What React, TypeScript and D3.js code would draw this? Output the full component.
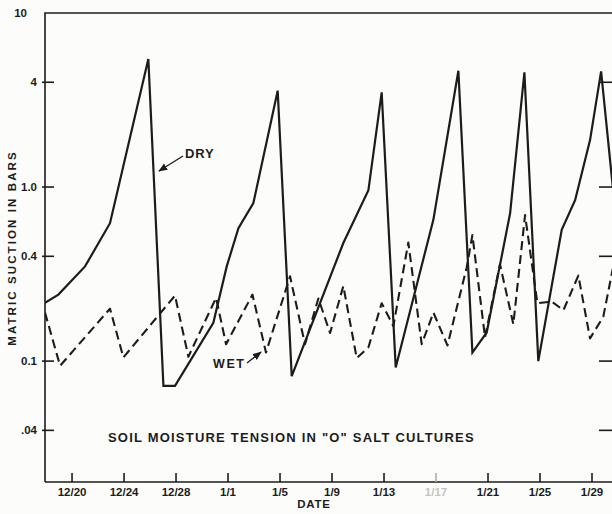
import React from "react";
import * as d3 from "d3";

// Days are counted from 12/20 (day 0)
const dryDays = [-2.08, -1.05, 1.0, 2.92, 5.87, 7.03, 7.92, 10.87, 11.9, 12.8, 13.95, 15.82, 16.9, 20.87, 22.8, 23.82, 24.9, 27.8, 29.72, 30.8, 31.9, 32.9, 33.7, 34.8, 35.87, 37.67, 38.7, 39.85, 40.7, 41.6];
const dryValues = [0.216, 0.241, 0.35, 0.62, 5.44, 0.072, 0.072, 0.166, 0.35, 0.58, 0.81, 3.58, 0.082, 0.477, 0.96, 3.5, 0.092, 0.65, 4.66, 0.112, 0.146, 0.35, 0.707, 4.56, 0.1, 0.568, 0.84, 1.86, 4.62, 1.0];

const wetDays = [-2.08, -0.92, 2.92, 3.95, 7.92, 8.95, 11.08, 11.85, 13.88, 14.92, 16.77, 17.92, 18.95, 19.85, 20.87, 21.9, 22.8, 23.82, 24.72, 25.87, 26.9, 27.8, 28.88, 30.36, 30.8, 31.77, 32.92, 33.95, 34.85, 35.8, 36.9, 37.8, 38.95, 39.85, 40.87, 41.6];
const wetValues = [0.19, 0.094, 0.2, 0.105, 0.238, 0.106, 0.231, 0.125, 0.241, 0.112, 0.307, 0.125, 0.229, 0.145, 0.27, 0.104, 0.12, 0.215, 0.159, 0.48, 0.125, 0.19, 0.123, 0.345, 0.53, 0.137, 0.36, 0.163, 0.69, 0.215, 0.22, 0.196, 0.31, 0.135, 0.18, 0.34];

const xTickDays = [0, 4, 8, 12, 16, 20, 24, 28, 32, 36, 40];
const xTickLabels = ["12/20", "12/24", "12/28", "1/1", "1/5", "1/9", "1/13", "1/17", "1/21", "1/25", "1/29"];
const yTickValues = [10, 4, 1, 0.4, 0.1, 0.04];
const yTickLabels = ["10", "4", "1.0", "0.4", "0.1", ".04"];

const W = 612;
const H = 514;
const LEFT = 45;
const TOP = 13;
const BOTTOM = 482;
const RIGHT = 614;

export default function App() {
  const x = d3.scaleLinear().domain([-2.08, 42]).range([LEFT, 618]);
  const y = d3.scaleLog().domain([0.0202, 10]).range([BOTTOM, TOP]);

  const line = d3
    .line<[number, number]>()
    .x((d) => x(d[0]))
    .y((d) => y(d[1]));

  const dry = line(dryDays.map((d, i) => [d, dryValues[i]] as [number, number])) || "";
  const wet = line(wetDays.map((d, i) => [d, wetValues[i]] as [number, number])) || "";

  const ink = "#1c1c1c";
  const font = "'Liberation Sans', Arial, sans-serif";

  return (
    <svg
      width={W}
      height={H}
      viewBox={`0 0 ${W} ${H}`}
      style={{ position: "absolute", left: 0, top: 0, background: "#fcfcfa" }}
    >
      <defs>
        <marker id="arr" viewBox="0 0 10 10" refX="9" refY="5" markerWidth="7" markerHeight="7" orient="auto-start-reverse">
          <path d="M0,1 L10,5 L0,9 z" fill={ink} />
        </marker>
        <clipPath id="clip">
          <rect x={LEFT} y={TOP} width={W - LEFT} height={BOTTOM - TOP} />
        </clipPath>
      </defs>
      <rect x={0} y={0} width={W} height={H} fill="#fcfcfa" />

      {/* frame */}
      <path d={`M${LEFT},${BOTTOM} L${LEFT},${TOP} L${RIGHT},${TOP} L${RIGHT},${BOTTOM} L${LEFT},${BOTTOM}`} fill="none" stroke={ink} strokeWidth={1.6} />

      {/* y ticks */}
      {yTickValues.map((v, i) => (
        <g key={"yt" + i}>
          {i > 0 && <line x1={LEFT - 3} x2={LEFT + 9} y1={y(v)} y2={y(v)} stroke={ink} strokeWidth={1.6} />}
          {i > 0 && <line x1={RIGHT - 15} x2={RIGHT} y1={y(v)} y2={y(v)} stroke={ink} strokeWidth={1.6} />}
          <text
            x={i === 0 ? 27 : 37}
            y={y(v)}
            dy="0.35em"
            textAnchor="end"
            fontFamily={font}
            fontWeight="bold"
            fontSize={11.5}
            fill={ink}
          >
            {yTickLabels[i]}
          </text>
        </g>
      ))}

      {/* x ticks */}
      {xTickDays.map((d, i) => (
        <g key={"xt" + i}>
          <line x1={x(d)} x2={x(d)} y1={BOTTOM} y2={BOTTOM - 9} stroke={i === 7 ? "#aaa" : ink} strokeWidth={1.6} />
          <text
            x={x(d)}
            y={BOTTOM + 14}
            textAnchor="middle"
            fontFamily={font}
            fontWeight="bold"
            fontSize={11.5}
            fill={i === 7 ? "#c4c4c4" : ink}
          >
            {xTickLabels[i]}
          </text>
        </g>
      ))}

      {/* axis titles */}
      <text x={314} y={508} textAnchor="middle" fontFamily={font} fontWeight="bold" fontSize={11.5} fill={ink} letterSpacing={0.8}>
        DATE
      </text>
      <text
        transform={`translate(16,248) rotate(-90)`}
        textAnchor="middle"
        fontFamily={font}
        fontWeight="bold"
        fontSize={11.5}
        fill={ink}
        letterSpacing={2.1}
      >
        MATRIC SUCTION IN BARS
      </text>

      {/* series */}
      <g clipPath="url(#clip)">
        <path d={wet} fill="none" stroke={ink} strokeWidth={2.1} strokeDasharray="9,5" strokeLinejoin="round" />
        <path d={dry} fill="none" stroke={ink} strokeWidth={2.2} strokeLinejoin="miter" />
      </g>

      {/* annotations */}
      <text x={185} y={158} fontFamily={font} fontWeight="bold" fontSize={13} fill={ink} letterSpacing={0.8}>
        DRY
      </text>
      <line x1={183} y1={156} x2={159} y2={171} stroke={ink} strokeWidth={1.3} markerEnd="url(#arr)" />
      <text x={213} y={368} fontFamily={font} fontWeight="bold" fontSize={12.5} fill={ink} letterSpacing={1.6}>
        WET
      </text>
      <line x1={247} y1={363} x2={261} y2={352} stroke={ink} strokeWidth={1.3} markerEnd="url(#arr)" />

      <text x={108} y={442} fontFamily={font} fontWeight="bold" fontSize={13} fill={ink} letterSpacing={1.2}>
        SOIL MOISTURE TENSION IN "O" SALT CULTURES
      </text>
    </svg>
  );
}
